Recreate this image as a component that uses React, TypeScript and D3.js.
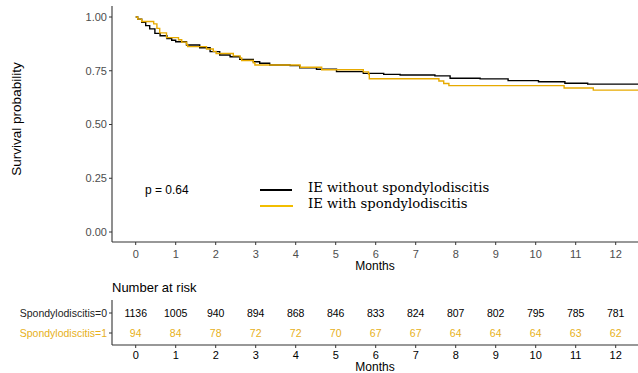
import React from "react";
import * as d3 from "d3";

const months = [0, 1, 2, 3, 4, 5, 6, 7, 8, 9, 10, 11, 12];
const yTicks = [0, 0.25, 0.5, 0.75, 1.0];
const groupLabels = ["IE without spondylodiscitis", "IE with spondylodiscitis"];
const riskLabels = ["Spondylodiscitis=0", "Spondylodiscitis=1"];
const riskGroup0 = [1136, 1005, 940, 894, 868, 846, 833, 824, 807, 802, 795, 785, 781];
const riskGroup1 = [94, 84, 78, 72, 72, 70, 67, 67, 64, 64, 64, 63, 62];

const timesGroup0 = [0, 0.05, 0.15, 0.25, 0.35, 0.48, 0.61, 0.78, 0.9, 1.0, 1.27, 1.6, 1.86, 2.1, 2.36, 2.6, 2.94, 3.1, 3.35, 3.86, 4.1, 4.52, 5.02, 5.69, 6.2, 6.61, 7.48, 7.86, 8.61, 9.31, 10.07, 10.73, 11.3, 12.56];
const survGroup0 = [1.0, 0.99, 0.975, 0.96, 0.945, 0.924, 0.913, 0.9, 0.892, 0.885, 0.87, 0.857, 0.839, 0.823, 0.815, 0.803, 0.792, 0.785, 0.777, 0.774, 0.764, 0.757, 0.746, 0.738, 0.733, 0.73, 0.726, 0.715, 0.712, 0.704, 0.699, 0.692, 0.688, 0.688];

const timesGroup1 = [0, 0.05, 0.15, 0.45, 0.53, 0.6, 0.77, 1.07, 1.15, 1.27, 1.3, 1.77, 1.94, 2.01, 2.44, 2.61, 2.65, 2.94, 2.98, 4.11, 4.65, 5.69, 5.82, 5.84, 7.58, 7.7, 7.83, 10.71, 11.44, 12.56];
const survGroup1 = [1.0, 0.99, 0.979, 0.968, 0.947, 0.926, 0.904, 0.894, 0.883, 0.872, 0.862, 0.851, 0.84, 0.83, 0.819, 0.809, 0.798, 0.787, 0.777, 0.766, 0.755, 0.745, 0.734, 0.713, 0.702, 0.691, 0.681, 0.67, 0.66, 0.66];

const BLACK = "#000000";
const ORANGE = "#E7AA00";
const ORANGE_TXT = "#E7B020";
const AXIS = "#333333";
const TICKTXT = "#4D4D4D";
const SANS = "'Liberation Sans', Arial, sans-serif";

export default function App() {
  const W = 638, H = 373;
  const x = d3.scaleLinear().domain([0, 12]).range([135.7, 615.7]);
  const y = d3.scaleLinear().domain([0, 1]).range([232, 17]);
  const xLeft = 112, xRight = 638;
  const plotBottom = 242, plotTop = 6;

  const line = d3.line<[number, number]>()
    .x(d => x(d[0]))
    .y(d => y(d[1]))
    .curve(d3.curveStepAfter);

  const d0 = line(timesGroup0.map((t, i) => [t, survGroup0[i]] as [number, number])) || "";
  const d1 = line(timesGroup1.map((t, i) => [t, survGroup1[i]] as [number, number])) || "";

  const riskRowY = [313, 333];
  const riskTop = 300, riskBottom = 345;

  return (
    <svg width={W} height={H} style={{ position: "absolute", left: 0, top: 0, background: "#fff" }} fontFamily={SANS}>
      <rect x={0} y={0} width={W} height={H} fill="#fff" />
      {/* main axes */}
      <line x1={xLeft} x2={xLeft} y1={plotTop} y2={plotBottom} stroke={AXIS} strokeWidth={1.1} />
      <line x1={xLeft} x2={xRight} y1={plotBottom} y2={plotBottom} stroke={AXIS} strokeWidth={1.1} />
      {yTicks.map(t => (
        <g key={"y" + t}>
          <line x1={xLeft - 3} x2={xLeft} y1={y(t)} y2={y(t)} stroke={AXIS} strokeWidth={1} />
          <text x={xLeft - 5} y={y(t)} dy="0.35em" textAnchor="end" fontSize={11} fill={TICKTXT}>{t.toFixed(2)}</text>
        </g>
      ))}
      {months.map(m => (
        <g key={"x" + m}>
          <line x1={x(m)} x2={x(m)} y1={plotBottom} y2={plotBottom + 3} stroke={AXIS} strokeWidth={1} />
          <text x={x(m)} y={plotBottom + 12} dy="0.35em" textAnchor="middle" fontSize={11} fill={TICKTXT}>{m}</text>
        </g>
      ))}
      <text x={375} y={266} dy="0.35em" textAnchor="middle" fontSize={12} fill="#000">Months</text>
      <text transform={`translate(16,${119}) rotate(-90)`} textAnchor="middle" dy="0.35em" fontSize={13.5} fill="#000">Survival probability</text>

      {/* curves */}
      <path d={d0} fill="none" stroke={BLACK} strokeWidth={1.4} />
      <path d={d1} fill="none" stroke={ORANGE} strokeWidth={1.4} />

      {/* p value */}
      <text x={145} y={190} dy="0.35em" fontSize={12} fill="#000">p = 0.64</text>

      {/* legend */}
      <line x1={260} x2={292} y1={190} y2={190} stroke={BLACK} strokeWidth={2} />
      <line x1={260} x2={293} y1={206} y2={206} stroke={"#F2BE00"} strokeWidth={2} />
      <text x={308} y={187} dy="0.35em" fontSize={13.2} fontFamily="'DejaVu Serif', serif" fill="#000">{groupLabels[0]}</text>
      <text x={308} y={203} dy="0.35em" fontSize={13.2} fontFamily="'DejaVu Serif', serif" fill="#000">{groupLabels[1]}</text>

      {/* risk table */}
      <text x={112} y={287} dy="0.35em" fontSize={13} fill="#000">Number at risk</text>
      <line x1={xLeft} x2={xLeft} y1={riskTop} y2={riskBottom} stroke={AXIS} strokeWidth={1.1} />
      <line x1={xLeft} x2={xRight} y1={riskBottom} y2={riskBottom} stroke={AXIS} strokeWidth={1.1} />
      {riskLabels.map((lab, i) => (
        <g key={lab}>
          <line x1={xLeft - 3} x2={xLeft} y1={riskRowY[i]} y2={riskRowY[i]} stroke={AXIS} strokeWidth={1} />
          <text x={xLeft - 5} y={riskRowY[i]} dy="0.35em" textAnchor="end" fontSize={10.5} fill={i === 0 ? "#222" : ORANGE_TXT}>{lab}</text>
        </g>
      ))}
      {months.map((m, i) => (
        <g key={"r" + m}>
          <text x={x(m)} y={riskRowY[0]} dy="0.35em" textAnchor="middle" fontSize={10.5} fill="#000">{riskGroup0[i]}</text>
          <text x={x(m)} y={riskRowY[1]} dy="0.35em" textAnchor="middle" fontSize={10.5} fill={ORANGE_TXT}>{riskGroup1[i]}</text>
          <line x1={x(m)} x2={x(m)} y1={riskBottom} y2={riskBottom + 3} stroke={AXIS} strokeWidth={1} />
          <text x={x(m)} y={riskBottom + 10} dy="0.35em" textAnchor="middle" fontSize={11} fill="#000">{m}</text>
        </g>
      ))}
      <text x={375} y={367} dy="0.35em" textAnchor="middle" fontSize={12} fill="#000">Months</text>
    </svg>
  );
}
